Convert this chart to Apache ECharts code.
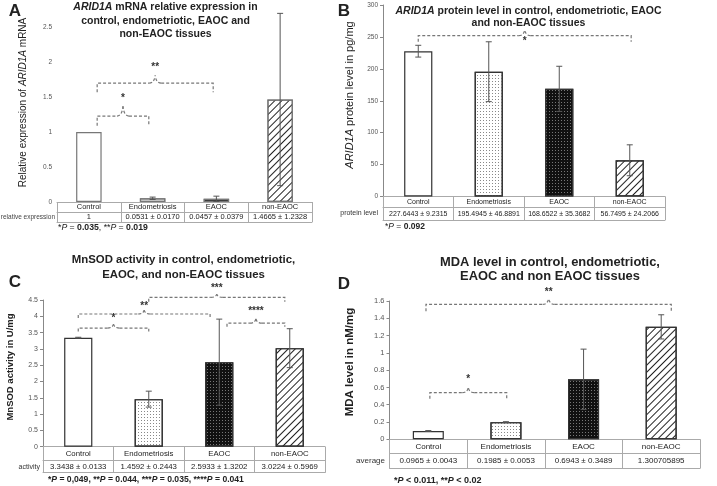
<!DOCTYPE html>
<html style="height: 100%">
<head>
    <meta charset="utf-8">
</head>
<body style="height: 100%; margin: 0; background: #fff">
<div id="container" style="width: 717px; height: 486px"></div>
<script type="text/javascript" src="https://cdn.jsdelivr.net/npm/echarts@6/dist/echarts.min.js"></script>
<script type="text/javascript">

    var categories = ['Control', 'Endometriosis', 'EAOC', 'non-EAOC'];

    // A - ARID1A mRNA relative expression
    var mrnaMean = [1, 0.0531, 0.0457, 1.4665];
    var mrnaSd = [0, 0.0170, 0.0379, 1.2328];
    var mrnaTable = ['1', '0.0531 ± 0.0170', '0.0457 ± 0.0379', '1.4665 ± 1.2328'];
    var mrnaAxis = [0, 2.5, 0.5];
    // from, to (category position), line, ends, peak, star, text
    var mrnaBrackets = [
        [0.13, 0.94, 1.23, 1.09, 1.37, 1.49, '*'],
        [0.13, 1.95, 1.70, 1.57, 1.81, 1.93, '**']
    ];

    // B - ARID1A protein level
    var protMean = [227.6443, 195.4945, 168.6522, 56.7495];
    var protSd = [9.2315, 46.8891, 35.3682, 24.2066];
    var protTable = ['227.6443 ± 9.2315', '195.4945 ± 46.8891', '168.6522 ± 35.3682', '56.7495 ± 24.2066'];
    var protAxis = [0, 300, 50];
    var protBrackets = [
        [0, 3.02, 252, 242.6, 261, 243.5, '*']
    ];

    // C - MnSOD activity
    var sodMean = [3.3438, 1.4592, 2.5933, 3.0224];
    var sodSd = [0.0133, 0.2443, 1.3202, 0.5969];
    var sodTable = ['3.3438 ± 0.0133', '1.4592 ± 0.2443', '2.5933 ± 1.3202', '3.0224 ± 0.5969'];
    var sodAxis = [0, 4.5, 0.5];
    var sodBrackets = [
        [0, 1.0, 3.64, 3.53, 3.76, 3.93, '*'],
        [0, 1.87, 4.07, 3.95, 4.19, 4.32, '**'],
        [1.0, 2.93, 4.58, 4.45, 4.68, 4.87, '***'],
        [2.11, 2.93, 3.79, 3.68, 3.92, 4.14, '****']
    ];

    // D - MDA level
    var mdaMean = [0.0965, 0.1985, 0.6943, 1.300705895];
    var mdaSd = [0.0043, 0.0053, 0.3489, 0.14];
    var mdaTable = ['0.0965 ± 0.0043', '0.1985 ± 0.0053', '0.6943 ± 0.3489', '1.300705895'];
    var mdaAxis = [0, 1.6, 0.2];
    var mdaBrackets = [
        [0.02, 1.01, 0.54, 0.47, 0.60, 0.69, '*'],
        [-0.03, 3.13, 1.56, 1.48, 1.63, 1.70, '**']
    ];

    var FONT = 'Liberation Sans';

    var barLooks = [
        {color: '#fff'},
        {color: '#fff', decal: {symbol: 'rect', symbolSize: 1, color: '#888', dashArrayX: [1, 2], dashArrayY: [1, 2]}},
        {color: '#111', decal: {symbol: 'rect', symbolSize: 1, color: '#777', dashArrayX: [1, 2], dashArrayY: [1, 2]}},
        {color: '#fff', decal: {symbol: 'rect', symbolSize: 1, color: '#222', dashArrayX: [1, 0], dashArrayY: [1, 4], rotation: -Math.PI / 4}}
    ];

    var panels = [
        {mean: mrnaMean, sd: mrnaSd, table: mrnaTable, axis: mrnaAxis, brackets: mrnaBrackets,
            grid: {left: 57, right: 405, top: 27.3, bottom: 284}, rows: [10, 10], yFont: 6.5, hFont: 7.5, yLine: false, border: '#777'},
        {mean: protMean, sd: protSd, table: protTable, axis: protAxis, brackets: protBrackets,
            grid: {left: 383, right: 52, top: 5, bottom: 289.5}, rows: [10.8, 12.7], yFont: 6.5, hFont: 7, yLine: true, border: '#333'},
        {mean: sodMean, sd: sodSd, table: sodTable, axis: sodAxis, brackets: sodBrackets,
            grid: {left: 43, right: 392, top: 300, bottom: 39.3}, rows: [13.5, 12.5], yFont: 7, hFont: 7.8, yLine: true, border: '#333'},
        {mean: mdaMean, sd: mdaSd, table: mdaTable, axis: mdaAxis, brackets: mdaBrackets,
            grid: {left: 389.5, right: 17, top: 301, bottom: 46.7}, rows: [14, 15], yFont: 7.5, hFont: 8, yLine: true, border: '#333'}
    ];

    function errorBars(p) {
        return function (params, api) {
            var i = params.dataIndex;
            var sd = p.sd[i];
            if (!sd) return;
            var top = api.coord([i, p.mean[i] + sd]);
            var bot = api.coord([i, p.mean[i] - sd]);
            var w = 3;
            var st = {stroke: '#555', lineWidth: 1};
            return {
                type: 'group',
                children: [
                    {type: 'line', shape: {x1: top[0], y1: top[1], x2: bot[0], y2: bot[1]}, style: st},
                    {type: 'line', shape: {x1: top[0] - w, y1: top[1], x2: top[0] + w, y2: top[1]}, style: st},
                    {type: 'line', shape: {x1: bot[0] - w, y1: bot[1], x2: bot[0] + w, y2: bot[1]}, style: st}
                ]
            };
        };
    }

    function bracketItem(list) {
        return function (params, api) {
            var b = list[params.dataIndex];
            var band = api.size([1, 0])[0];
            var x0 = api.coord([0, 0])[0];
            var X = function (v) { return x0 + v * band; };
            var Y = function (v) { return api.coord([0, v])[1]; };
            var xa = X(b[0]), xb = X(b[1]), xm = (xa + xb) / 2;
            var yl = Y(b[2]), ye = Y(b[3]), yp = Y(b[4]), ys = Y(b[5]);
            var d = 6;
            var st = {stroke: '#777', lineWidth: 1.2, lineDash: [3, 2], fill: 'none'};
            return {
                type: 'group',
                children: [
                    {type: 'polyline', shape: {points: [[xa, ye], [xa, yl], [xm - d, yl]]}, style: st},
                    {type: 'polyline', shape: {points: [[xm + d, yl], [xb, yl], [xb, ye]]}, style: st},
                    {type: 'bezierCurve', shape: {x1: xm - d, y1: yl, x2: xm, y2: yp, cpx1: xm - 1, cpy1: yl}, style: st},
                    {type: 'bezierCurve', shape: {x1: xm + d, y1: yl, x2: xm, y2: yp, cpx1: xm + 1, cpy1: yl}, style: st},
                    {type: 'text', x: xm, y: ys, style: {text: b[6], fill: '#333', fontSize: 10, fontWeight: 'bold',
                        fontFamily: FONT, align: 'center', verticalAlign: 'middle'}}
                ]
            };
        };
    }

    var grids = [], xAxes = [], yAxes = [], series = [];
    panels.forEach(function (p, g) {
        grids.push(Object.assign({outerBoundsMode: 'none', containLabel: false}, p.grid));
        var lineStyle = {color: '#aaa', width: 1};
        var ax = xAxes.length;
        xAxes.push({
            type: 'category', gridIndex: g, position: 'bottom', data: categories,
            axisLine: {lineStyle: lineStyle},
            axisTick: {show: true, interval: 0, length: p.rows[0] + p.rows[1], lineStyle: lineStyle},
            axisLabel: {interval: 0, margin: p.rows[0] / 2, verticalAlign: 'middle', fontSize: p.hFont,
                fontFamily: FONT, color: '#222'}
        });
        xAxes.push({
            type: 'category', gridIndex: g, position: 'bottom', offset: p.rows[0], data: p.table,
            axisLine: {lineStyle: lineStyle}, axisTick: {show: false},
            axisLabel: {interval: 0, margin: p.rows[1] / 2, verticalAlign: 'middle', fontSize: p.hFont,
                fontFamily: FONT, color: '#222'}
        });
        xAxes.push({
            type: 'category', gridIndex: g, position: 'bottom', offset: p.rows[0] + p.rows[1], data: categories,
            axisLine: {lineStyle: lineStyle}, axisTick: {show: false}, axisLabel: {show: false}
        });
        yAxes.push({
            type: 'value', gridIndex: g, min: p.axis[0], max: p.axis[1], interval: p.axis[2],
            axisLine: {show: p.yLine, lineStyle: {color: '#888'}},
            axisTick: {show: p.yLine, length: 3, lineStyle: {color: '#888'}},
            splitLine: {show: false},
            axisLabel: {fontSize: p.yFont, fontFamily: FONT, color: '#555', margin: 5}
        });
        series.push({
            type: 'bar', xAxisIndex: ax, yAxisIndex: g, barWidth: '40%', silent: true,
            data: p.mean.map(function (m, i) {
                var look = barLooks[i];
                var style = {color: look.color, borderColor: p.border, borderWidth: 1.2};
                if (look.decal) style.decal = look.decal;
                return {value: m, itemStyle: style};
            })
        });
        series.push({
            type: 'custom', xAxisIndex: ax, yAxisIndex: g, z: 5, clip: false, silent: true,
            data: p.mean.map(function (m, i) { return [i, m]; }),
            renderItem: errorBars(p)
        });
        series.push({
            type: 'custom', xAxisIndex: ax, yAxisIndex: g, z: 6, clip: false, silent: true,
            data: p.brackets.map(function (b) { return [0, b[2]]; }),
            renderItem: bracketItem(p.brackets)
        });
    });

    function txt(x, y, text, o) {
        o = o || {};
        var size = o.size || 10;
        var lh = o.lh || size * 1.2;
        var base = {fontSize: size, fontFamily: FONT, fontWeight: o.weight || 'normal', fill: o.color || '#222', lineHeight: lh};
        var rich = {
            i: Object.assign({}, base, {fontStyle: 'italic'}),
            b: Object.assign({}, base, {fontWeight: 'bold'}),
            n: Object.assign({}, base)
        };
        return {
            type: 'text', x: x, y: y, rotation: o.rot || 0, z: 10,
            style: Object.assign({}, base, {
                text: text, rich: rich,
                align: o.align || 'center', textAlign: o.align || 'center',
                verticalAlign: o.valign || 'middle', textVerticalAlign: o.valign || 'middle'
            })
        };
    }

    var R = Math.PI / 2;
    var graphics = [
        txt(15, 11, 'A', {size: 17, weight: 'bold'}),
        txt(344, 11, 'B', {size: 17, weight: 'bold'}),
        txt(15, 282, 'C', {size: 17, weight: 'bold'}),
        txt(344, 284, 'D', {size: 17, weight: 'bold'}),

        txt(165.5, 0.5, '{i|ARID1A} mRNA relative expression in\ncontrol, endometriotic, EAOC and\nnon-EAOC tissues',
            {size: 10.5, weight: 'bold', lh: 13.5, valign: 'top'}),
        txt(528.5, 4.5, '{i|ARID1A} protein level in control, endometriotic, EAOC\nand non-EAOC tissues',
            {size: 10.5, weight: 'bold', lh: 12.5, valign: 'top'}),
        txt(183.5, 253, 'MnSOD activity in control, endometriotic,\nEAOC, and non-EAOC tissues',
            {size: 11.4, weight: 'bold', lh: 14.3, valign: 'top'}),
        txt(550, 255, 'MDA level in control, endometriotic,\nEAOC and non EAOC tissues',
            {size: 12.9, weight: 'bold', lh: 14.5, valign: 'top'}),

        txt(23, 102.5, 'Relative expression of {i|ARID1A} mRNA', {size: 10, rot: R}),
        txt(350, 95, '{i|ARID1A} protein level in pg/mg', {size: 11, rot: R}),
        txt(10, 367, 'MnSOD activity in U/mg', {size: 9.5, weight: 'bold', rot: R}),
        txt(350, 362, 'MDA level in nM/mg', {size: 11.5, weight: 'bold', rot: R}),

        txt(55, 217, 'relative expression', {size: 6.5, align: 'right', color: '#444'}),
        txt(378, 213.5, 'protein level', {size: 7, align: 'right', color: '#333'}),
        txt(40, 467, 'activity', {size: 7, align: 'right', color: '#333'}),
        txt(385, 461, 'average', {size: 8, align: 'right', color: '#333'}),

        txt(58, 228, '{n|*}{i|P}{n| = }{b|0.035}{n|, **}{i|P}{n| = }{b|0.019}', {size: 8.7, align: 'left'}),
        txt(385, 227, '{n|*}{i|P}{n| = }{b|0.092}', {size: 8.5, align: 'left'}),
        txt(48, 480, '*{i|P} = 0,049, **{i|P} = 0.044, ***{i|P} = 0.035, ****{i|P} = 0.041', {size: 8.6, weight: 'bold', align: 'left'}),
        txt(394, 481, '*{i|P} < 0.011, **{i|P} < 0.02', {size: 9, weight: 'bold', align: 'left'})
    ];

    var myChart = echarts.init(document.getElementById('container'));
    myChart.setOption({
        animation: false,
        backgroundColor: '#fff',
        grid: grids,
        xAxis: xAxes,
        yAxis: yAxes,
        series: series,
        graphic: graphics
    });

</script>
</body>
</html>
